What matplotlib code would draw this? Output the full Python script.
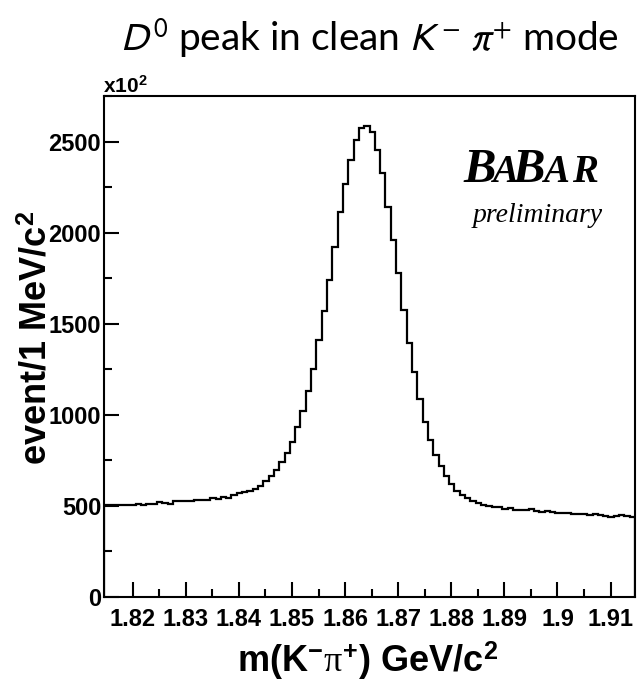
import numpy as np
import matplotlib
matplotlib.use("Agg")
import matplotlib.pyplot as plt

# ---- data (events per 1 MeV bin, in units of 10^2) ----
x_low = 1.8146          # GeV/c^2, lower edge of first bin
bin_width = 0.001       # 1 MeV bins
counts = [
    506, 506, 505, 506, 506, 507, 512, 504, 511, 513,
    519, 514, 511, 525, 526, 527, 528, 532, 533, 534,
    545, 539, 551, 543, 562, 569, 574, 580, 592, 612,
    636, 663, 697, 740, 791, 852, 935, 1023, 1133, 1254,
    1411, 1569, 1740, 1920, 2113, 2268, 2401, 2511, 2573, 2587,
    2553, 2456, 2325, 2141, 1957, 1777, 1573, 1393, 1236, 1087,
    960, 860, 780, 717, 663, 620, 582, 560, 546, 528,
    515, 503, 497, 495, 494, 485, 488, 479, 476, 476,
    483, 470, 467, 470, 467, 463, 461, 461, 458, 456,
    456, 452, 458, 452, 447, 440, 442, 452, 447, 438,
]
x_ticks = [1.82, 1.83, 1.84, 1.85, 1.86, 1.87, 1.88, 1.89, 1.90, 1.91]
x_tick_labels = ["1.82", "1.83", "1.84", "1.85", "1.86", "1.87", "1.88", "1.89", "1.9", "1.91"]
y_ticks = [0, 500, 1000, 1500, 2000, 2500]
y_tick_labels = ["0", "500", "1000", "1500", "2000", "2500"]

edges = x_low + bin_width * np.arange(len(counts) + 1)

plt.rcParams["mathtext.fontset"] = "custom"
plt.rcParams["mathtext.rm"] = "Liberation Sans:bold"
plt.rcParams["mathtext.bf"] = "Liberation Sans:bold"
plt.rcParams["mathtext.it"] = "Liberation Serif"
plt.rcParams["font.family"] = ["Liberation Sans", "DejaVu Sans"]

W, H = 637, 683
fig = plt.figure(figsize=(W / 100, H / 100), dpi=100)
L, R, T, B = 104, 635, 96, 597
ax = fig.add_axes([L / W, 1 - B / H, (R - L) / W, (B - T) / H])

ax.stairs(counts, edges, color="black", linewidth=1.6)

ax.set_xlim(edges[0], edges[-1])
ax.set_ylim(0, 2707)

ax.set_xticks(x_ticks)
ax.set_xticklabels(x_tick_labels)
ax.set_xticks(np.array(x_ticks[:-1]) + 0.005, minor=True)
ax.set_yticks(y_ticks)
ax.set_yticklabels(y_tick_labels)
ax.set_yticks(np.array(y_ticks) + 250, minor=True)

for lab in ax.get_xticklabels() + ax.get_yticklabels():
    lab.set_fontweight("bold")
    lab.set_fontsize(17)

ax.tick_params(axis="both", which="both", direction="in", top=False, right=False, width=1.5)
ax.tick_params(axis="both", which="major", length=11)
ax.tick_params(axis="both", which="minor", length=6)
ax.tick_params(axis="x", which="major", pad=8)
ax.tick_params(axis="y", which="major", pad=2)
for sp in ax.spines.values():
    sp.set_linewidth(1.5)

def fx(px):
    return px / W

def fy(py):
    return 1 - py / H

# axis titles
fig.text(fx(368), fy(672), r"m(K$^{-}\pi^{+}$) GeV/c$^{2}$", fontsize=26,
         fontweight="bold", ha="center", va="baseline")
fig.text(fx(47), fy(338), r"event/1 MeV/c$^{2}$", fontsize=26,
         fontweight="bold", rotation=90, ha="center", va="baseline",
         rotation_mode="anchor")

# x10^2 multiplier
fig.text(fx(103), fy(93), r"x10$^{2}$", fontsize=15, fontweight="bold",
         ha="left", va="baseline")

# title
fig.text(fx(369), fy(51), r"$D^{0}$ peak in clean $K^{-}$ $\pi^{+}$ mode",
         fontsize=28, family=["Lato", "DejaVu Sans"], math_fontfamily="stixsans",
         ha="center", va="baseline")

# BaBar logo
logo = dict(family="Liberation Serif", fontweight="bold", fontstyle="italic",
            va="baseline", ha="left")
fig.text(fx(463), fy(182), "B", fontsize=35, **logo)
fig.text(fx(492), fy(182), "A", fontsize=28, **logo)
fig.text(fx(512), fy(182), "B", fontsize=35, **logo)
fig.text(fx(543), fy(182), "A", fontsize=28, **logo)
fig.text(fx(572), fy(182), "R", fontsize=28, **logo)
fig.text(fx(538), fy(222), "preliminary", fontsize=20, family="Liberation Serif",
         fontstyle="italic", ha="center", va="baseline")

fig.savefig("out.png", dpi=100)
